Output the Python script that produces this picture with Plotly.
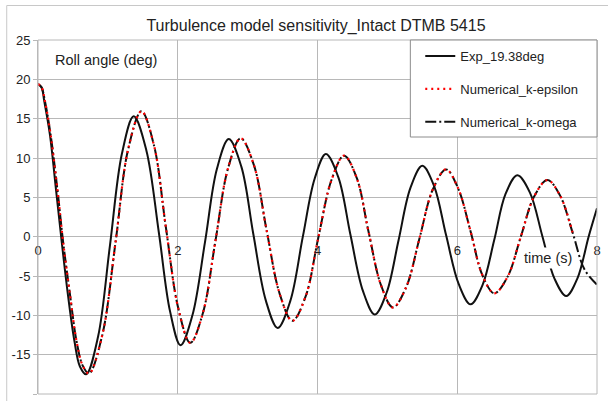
import plotly.graph_objects as go

# ---- data ----
time_exp = [0.00, 0.05, 0.09, 0.17, 0.26, 0.34, 0.43, 0.52, 0.60, 0.69,
            0.86, 1.03, 1.20, 1.37,
            1.55, 1.73, 1.89, 2.04,
            2.21, 2.39, 2.56, 2.73,
            2.91, 3.08, 3.26, 3.43,
            3.61, 3.79, 3.96, 4.12,
            4.30, 4.47, 4.65, 4.82,
            4.99, 5.16, 5.33, 5.50,
            5.67, 5.84, 6.02, 6.19,
            6.36, 6.53, 6.69, 6.86,
            7.04, 7.22, 7.39, 7.56,
            7.72, 7.88, 8.00]
roll_exp = [19.4, 19.0, 17.2, 13.0, 5.8, -0.7, -7.5, -13.2, -16.5, -17.5,
            -12.7, -1.1, 10.5, 15.3,
            11.0, 0.5, -9.5, -13.8,
            -10.0, -0.7, 8.6, 12.4,
            8.9, 0.4, -8.1, -11.6,
            -8.2, 0.0, 7.4, 10.5,
            7.5, 0.3, -6.9, -9.9,
            -7.1, -0.45, 6.2, 9.0,
            6.4, 0.2, -6.0, -8.6,
            -6.2, -0.4, 5.4, 7.8,
            5.6, 0.0, -5.3, -7.55,
            -5.3, 0.0, 3.6]

time_num = [0.00, 0.05, 0.10, 0.18, 0.28, 0.36, 0.46, 0.55, 0.64, 0.73,
            0.92, 1.11, 1.29, 1.48,
            1.66, 1.83, 2.01, 2.18,
            2.36, 2.54, 2.72, 2.90,
            3.09, 3.27, 3.46, 3.64,
            3.83, 4.01, 4.20, 4.38,
            4.56, 4.73, 4.91, 5.08,
            5.27, 5.46, 5.65, 5.84,
            6.01, 6.19, 6.36, 6.53,
            6.72, 6.91, 7.10, 7.29,
            7.47, 7.65, 7.82, 8.00]
roll_keps = [19.4, 19.0, 17.2, 13.0, 5.8, -0.7, -7.5, -13.2, -16.4, -17.4,
             -12.5, -0.7, 11.1, 15.95,
             11.6, 1.2, -9.2, -13.5,
             -9.7, -0.5, 8.7, 12.5,
             9.1, 0.9, -7.3, -10.7,
             -7.6, -0.2, 7.2, 10.3,
             7.5, 0.65, -6.2, -9.0,
             -6.4, -0.2, 6.0, 8.55,
             6.2, 0.7, -4.9, -7.2,
             -5.1, 0.0, 5.1, 7.2,
             5.25, 0.55]
roll_komega = [19.4, 19.0, 17.2, 13.0, 5.8, -0.7, -7.5, -13.2, -16.4, -17.4,
               -12.5, -0.7, 11.1, 15.95,
               11.6, 1.2, -9.2, -13.5,
               -9.7, -0.5, 8.7, 12.5,
               9.1, 0.9, -7.3, -10.7,
               -7.6, -0.2, 7.2, 10.3,
               7.5, 0.65, -6.2, -9.0,
               -6.4, -0.2, 6.0, 8.55,
               6.2, 0.7, -4.9, -7.2,
               -5.1, 0.0, 5.1, 7.2,
               5.25, 0.55, -4.15, -6.1]

names = ["Exp_19.38deg", "Numerical_k-epsilon", "Numerical_k-omega"]
x_ticks = [0, 2, 4, 6, 8]
y_ticks = [-20, -15, -10, -5, 0, 5, 10, 15, 20, 25]

GRID = "#b8b8b8"
FONT = "Liberation Sans, Arial, sans-serif"

fig = go.Figure()
fig.add_trace(go.Scatter(x=time_exp, y=roll_exp, mode="lines", name=names[0],
                         line=dict(color="#111111", width=2, shape="spline"),
                         legendgroup="a", legendrank=1))
fig.add_trace(go.Scatter(x=time_num, y=roll_komega, mode="lines", name=names[2],
                         line=dict(color="#111111", width=2, shape="spline",
                                   dash="11px,3px,2px,3px"),
                         legendgroup="c", legendrank=3))
fig.add_trace(go.Scatter(x=time_num[:len(roll_keps)], y=roll_keps, mode="lines", name=names[1],
                         line=dict(color="#ff0000", width=2.2, shape="spline", dash="2px,4px"),
                         legendgroup="b", legendrank=2))

L, R, T, B = 38, 7, 40, 7
W, H = 608, 401
pw, ph = W - L - R, H - T - B

fig.update_layout(
    width=W, height=H,
    margin=dict(l=L, r=R, t=T, b=B),
    paper_bgcolor="white", plot_bgcolor="white",
    font=dict(family=FONT, size=13, color="#222222"),
    title=dict(text="Turbulence model sensitivity_Intact DTMB 5415",
               x=316 / W, xanchor="center", y=1 - 25 / H, yanchor="middle",
               font=dict(size=16, family=FONT, color="#222222")),
    showlegend=True,
    legend=dict(x=(423 - L) / pw, y=0.997, xanchor="left", yanchor="top",
                bgcolor="rgba(0,0,0,0)", borderwidth=0, tracegroupgap=13,
                font=dict(size=13, family=FONT, color="#222222")),
    xaxis=dict(range=[0, 8], tickvals=x_ticks, ticktext=[str(v) for v in x_ticks],
               anchor="free", position=20 / 45, showline=False, zeroline=False,
               showgrid=True, gridcolor=GRID, gridwidth=1, ticks="",
               ticklabelstandoff=4, tickfont=dict(size=13)),
    yaxis=dict(range=[-20, 25], tickvals=y_ticks, ticktext=[str(v) for v in y_ticks],
               showline=True, linecolor=GRID, linewidth=1,
               showgrid=True, gridcolor=GRID, gridwidth=1,
               zeroline=True, zerolinecolor=GRID, zerolinewidth=1,
               ticks="outside", ticklen=4, tickcolor=GRID,
               tickfont=dict(size=13)),
)

shapes = [
    # plot frame
    dict(type="rect", xref="paper", yref="paper", x0=0, x1=1, y0=0, y1=1,
         line=dict(color=GRID, width=1), fillcolor="rgba(0,0,0,0)", layer="above"),
    # legend box
    dict(type="rect", xref="paper", yref="paper", x0=(413 - L) / pw, x1=1,
         y0=1 - (137 - T) / ph, y1=1,
         line=dict(color="#8c8c8c", width=1), fillcolor="white", layer="above"),
    # outer chart border (top / left)
    dict(type="line", xref="paper", yref="paper", x0=(6.5 - L) / pw, x1=(W + 5 - L) / pw,
         y0=1 + (T - 5.5) / ph, y1=1 + (T - 5.5) / ph, line=dict(color="#c8c8c8", width=1)),
    dict(type="line", xref="paper", yref="paper", x0=(6.5 - L) / pw, x1=(6.5 - L) / pw,
         y0=-0.1, y1=1 + (T - 5.5) / ph, line=dict(color="#c8c8c8", width=1)),
]
fig.update_layout(shapes=shapes)

fig.add_annotation(text="Roll angle (deg)", x=0.21, y=22.5, xref="x", yref="y",
                   xanchor="left", yanchor="middle", showarrow=False,
                   font=dict(size=14.5, family=FONT, color="#222222"))
fig.add_annotation(text="time (s)", x=7.3, y=-2.75, xref="x", yref="y",
                   xanchor="center", yanchor="middle", showarrow=False,
                   bgcolor="white", borderpad=2,
                   font=dict(size=14.5, family=FONT, color="#222222"))

fig.write_html("out.html")
